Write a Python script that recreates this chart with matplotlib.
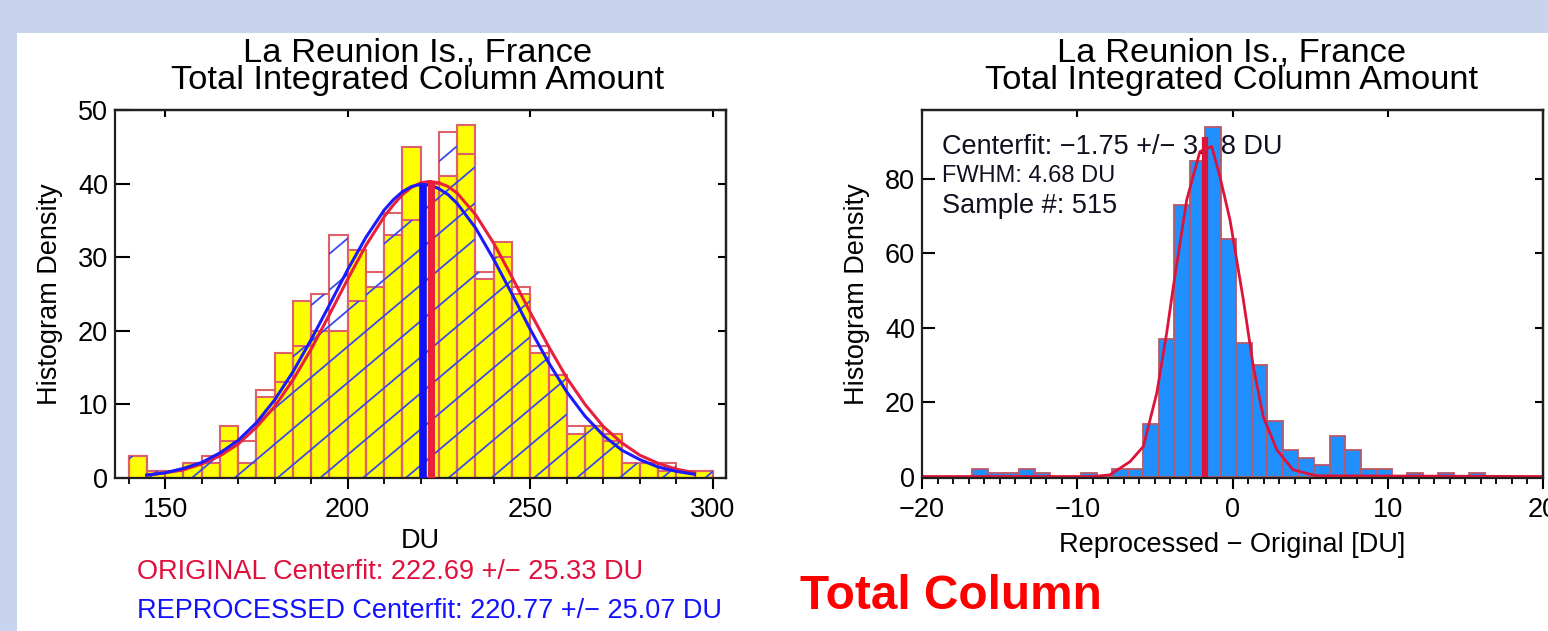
import numpy as np
import matplotlib
matplotlib.use("Agg")
import matplotlib.pyplot as plt
from matplotlib.patches import Rectangle, PathPatch
from matplotlib.path import Path
from matplotlib.collections import LineCollection

plt.rcParams['font.family'] = ['Liberation Sans', 'DejaVu Sans']

# ---- left panel: original vs reprocessed total column (5 DU bins) ----
bin_left = [140, 145, 150, 155, 160, 165, 170, 175, 180, 185, 190, 195, 200, 205, 210, 215,
            220, 225, 230, 235, 240, 245, 250, 255, 260, 265, 270, 275, 280, 285, 290, 295]
original = [3, 1, 1, 2, 2, 7, 2, 11, 17, 24, 20, 20, 31, 26, 33, 45,
            40, 41, 48, 27, 32, 25, 17, 14, 6, 7, 6, 2, 2, 1, 1, 1]
reprocessed = [3, 1, 1, 2, 3, 5, 5, 12, 13, 18, 25, 33, 24, 28, 36, 35,
               40, 47, 44, 28, 30, 26, 18, 14, 7, 7, 5, 2, 2, 2, 1, 1]

fit_x = [145, 150, 155, 160, 165, 170, 175, 180, 185, 190, 195, 200, 205, 210, 212.5, 215,
         217.5, 220, 222.5, 225, 227.5, 230, 235, 240, 245, 250, 255, 260, 265, 270, 275,
         280, 285, 290, 295]
fit_orig = [0.4, 0.7, 1.1, 1.9, 3.0, 4.6, 6.9, 9.7, 13.3, 17.5, 22.2, 27.0, 31.6, 35.5, 37.1, 38.5,
            39.5, 40.1, 40.3, 40.1, 39.6, 38.7, 35.8, 31.9, 27.3, 22.5, 17.9, 13.6, 10.0, 7.0, 4.8,
            3.1, 2.0, 1.2, 0.7]
fit_repr = [0.4, 0.7, 1.3, 2.1, 3.4, 5.1, 7.5, 10.6, 14.4, 18.8, 23.5, 28.3, 32.7, 36.4, 37.8, 38.9,
            39.6, 39.9, 39.8, 39.3, 38.5, 37.3, 34.0, 29.7, 25.0, 20.2, 15.7, 11.7, 8.4, 5.8, 3.8,
            2.5, 1.5, 0.9, 0.5]
center_orig, top_orig = 222.69, 40.3
center_repr, top_repr = 220.77, 39.8

# ---- right panel: difference histogram (1 DU bins) ----
diff_left = [-16.75, -15.75, -14.75, -13.75, -12.75, -11.75, -10.75, -9.75, -8.75, -7.75, -6.75,
             -5.75, -4.75, -3.75, -2.75, -1.75, -0.75, 0.25, 1.25, 2.25, 3.25, 4.25, 5.25,
             6.25, 7.25, 8.25, 9.25, 10.25, 11.25, 12.25, 13.25, 14.25, 15.25]
diff_counts = [2, 1, 1, 2, 1, 0, 0, 1, 0, 2, 2,
               14, 37, 73, 85, 94, 64, 36, 30, 15, 7, 5, 3,
               11, 7, 2, 2, 0, 1, 0, 1, 0, 1]
diff_fit_x = [-20, -9.0, -7.9, -6.6, -5.74, -4.88, -4.24, -3.81, -2.95, -2.1, -1.34,
              -0.81, -0.16, 0.7, 1.34, 1.98, 2.85, 3.9, 5.4, 20]
diff_fit_y = [0, 0, 0.45, 4.0, 8.1, 22.4, 38.6, 51.1, 74.4, 87.4, 88.8,
              80.7, 69.0, 47.5, 29.6, 16.1, 7.2, 1.8, 0.2, 0]
diff_center, diff_top = -1.75, 91.3

W, H = 1548, 631
fig = plt.figure(figsize=(W / 100, H / 100), dpi=100, facecolor='#C8D4EE')
fig.add_artist(Rectangle((17 / W, 0), 1 - 17 / W, 1 - 33 / H, transform=fig.transFigure,
                         facecolor='white', edgecolor='none', zorder=-10))

ax1 = fig.add_axes([115 / W, 1 - 478 / H, (726 - 115) / W, (478 - 110) / H])
ax2 = fig.add_axes([922 / W, 1 - 478 / H, (1543 - 922) / W, (478 - 110) / H])

edge_l = '#E0606A'
ax1.bar(bin_left, original, width=5, align='edge', color='#FFFF00', edgecolor=edge_l,
        linewidth=1.5, zorder=1)
ax1.bar(bin_left, reprocessed, width=5, align='edge', color='none', edgecolor=edge_l,
        linewidth=1.5, zorder=1.5)

# sparse blue hatching clipped to the reprocessed bars
verts, codes = [], []
for e, h in zip(bin_left, reprocessed):
    verts += [(e, 0), (e + 5, 0), (e + 5, h), (e, h), (e, 0)]
    codes += [Path.MOVETO, Path.LINETO, Path.LINETO, Path.LINETO, Path.CLOSEPOLY]
clip = PathPatch(Path(verts, codes), transform=ax1.transData)
segs = [[(0, c), (1, c + 1.4)] for c in np.arange(-1.45, 1.0, 0.098)]
lc = LineCollection(segs, colors='#3A48F0', linewidths=1.3, transform=ax1.transAxes, zorder=1.6)
lc.set_clip_path(clip)
ax1.add_collection(lc)

ax1.plot(fit_x, fit_orig, color='#E8203C', lw=2.2, zorder=3)
ax1.plot(fit_x, fit_repr, color='#1A1AFF', lw=2.2, zorder=3.1)
ax1.plot([center_orig, center_orig], [0, top_orig], color='#E8203C', lw=5,
         solid_capstyle='butt', zorder=4)
ax1.plot([center_repr, center_repr], [0, top_repr], color='#1010FF', lw=5.5,
         solid_capstyle='butt', zorder=4.1)

ax1.set_xlim(136.3, 303.6)
ax1.set_ylim(0, 50)
ax1.set_xticks([150, 200, 250, 300])
ax1.set_xticks(np.arange(140, 301, 10), minor=True)
ax1.set_yticks([0, 10, 20, 30, 40, 50])
ax1.set_xlabel('DU', fontsize=19.5, labelpad=3)
ax1.set_ylabel('Histogram Density', fontsize=19.5, labelpad=11)

# right panel
ax2.bar(diff_left, diff_counts, width=1, align='edge', color='#2090FF', edgecolor='#B85868',
        linewidth=1.3, zorder=1)
ax2.plot(diff_fit_x, diff_fit_y, color='#DC143C', lw=2.0, zorder=2)
ax2.plot([diff_center, diff_center], [0, diff_top], color='#DC143C', lw=4.5,
         solid_capstyle='butt', zorder=3)
ax2.set_xlim(-20, 20)
ax2.set_ylim(-0.4, 98.6)
ax2.set_xticks([-20, -10, 0, 10, 20])
ax2.set_xticks(np.arange(-20, 21, 1), minor=True)
ax2.set_yticks([0, 20, 40, 60, 80])
ax2.set_xlabel('Reprocessed \u2212 Original [DU]', fontsize=19.5, labelpad=6)
ax2.set_ylabel('Histogram Density', fontsize=19.5, labelpad=11)

ax2.text(0.032, 0.88, 'Centerfit: \u22121.75 +/\u2212 3.68 DU', transform=ax2.transAxes,
         fontsize=19.5, color='#101020', zorder=0.5)
ax2.text(0.032, 0.805, 'FWHM: 4.68 DU', transform=ax2.transAxes, fontsize=17,
         color='#101020', zorder=0.5)
ax2.text(0.032, 0.72, 'Sample #: 515', transform=ax2.transAxes, fontsize=19.5,
         color='#101020', zorder=0.5)

for ax, ylen in ((ax1, 10.5), (ax2, 9.5)):
    for s in ax.spines.values():
        s.set_linewidth(1.6)
        s.set_color('#202020')
    ax.tick_params(axis='x', which='major', direction='out', length=8, width=1.5,
                   labelsize=19.5, pad=6, top=False)
    ax.tick_params(axis='x', which='minor', direction='out', length=4.5, width=1.3, top=False)
    ax.tick_params(axis='y', which='major', direction='in', length=ylen, width=1.5,
                   labelsize=19.5, pad=5, right=False)
    ax.tick_params(axis='y', which='minor', left=False)
    top = ax.secondary_xaxis('top')
    top.set_xticks(ax.get_xticks())
    top.tick_params(direction='in', length=5, width=1.5, labeltop=False)
    top.spines['top'].set_linewidth(1.6)
    right = ax.secondary_yaxis('right')
    right.set_yticks(ax.get_yticks())
    right.tick_params(direction='in', length=5.5, width=1.5, labelright=False)
    right.spines['right'].set_linewidth(1.6)

title_lines = ['La Reunion Is., France', 'Total Integrated Column Amount']
for cx in (418, 1232):
    fig.text(cx / W, 1 - 61 / H, title_lines[0], ha='center', va='baseline', fontsize=24.8)
    fig.text(cx / W, 1 - 89 / H, title_lines[1], ha='center', va='baseline', fontsize=24.8)

fig.text(137 / W, 1 - 579 / H, 'ORIGINAL Centerfit: 222.69 +/\u2212 25.33 DU',
         color='#E0103C', fontsize=19.5, va='baseline')
fig.text(137 / W, 1 - 618 / H, 'REPROCESSED Centerfit: 220.77 +/\u2212 25.07 DU',
         color='#1212FF', fontsize=19.5, va='baseline')
fig.text(800 / W, 1 - 609 / H, 'Total Column', color='#FF0000', fontsize=34.4,
         fontweight='bold', va='baseline')

fig.savefig('out.png', dpi=100, facecolor=fig.get_facecolor())
